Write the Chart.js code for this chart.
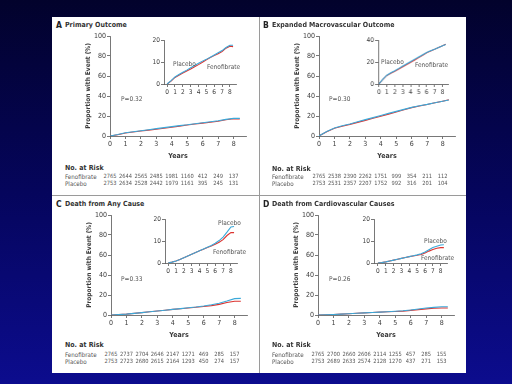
<!DOCTYPE html>
<html>
<head>
<meta charset="utf-8">
<script src="https://cdn.jsdelivr.net/npm/chart.js@4.4.1/dist/chart.umd.min.js"></script>
<style>
  html, body { margin: 0; padding: 0; }
  body {
    width: 512px; height: 384px; overflow: hidden; position: relative;
    background: linear-gradient(to bottom, #02022c 0%, #05055c 50%, #0c0c8e 100%);
    font-family: "Liberation Sans Narrow", "DejaVu Sans Condensed", "Liberation Sans", sans-serif;
  }
  #sheet { position: absolute; left: 52px; top: 17px; width: 414px; height: 356px; background: #fff; }
  .rule { position: absolute; background: #9a9a9a; }
  .txt { position: absolute; white-space: nowrap; line-height: 1; color: #3a3a3a; }
  .box { position: absolute; }
</style>
</head>
<body>
<div id="sheet"></div>
<div class="rule" style="left:259px;top:17px;width:1px;height:356px"></div>
<div class="rule" style="left:52px;top:195px;width:414px;height:1px"></div>
<script>
// follow-up times (years) and axis ticks
const years = [0, 0.5, 1, 1.5, 2, 2.5, 3, 3.5, 4, 4.5, 5, 5.5, 6, 6.5, 7, 7.5, 8, 8.4];
const yearTicks = [0, 1, 2, 3, 4, 5, 6, 7, 8];
const mainTicks = [0, 20, 40, 60, 80, 100];
const insetTicks20 = [0, 10, 20];
const insetTicks40 = [0, 20, 40];

// cumulative proportion with event (%)
const primaryPlacebo = [0, 1.5, 3.2, 4.3, 5.3, 6.3, 7.4, 8.4, 9.4, 10.4, 11.2, 12.2, 13.2, 14.2, 15.2, 16.6, 17.6, 17.6];
const primaryFeno    = [0, 1.3, 3.0, 4.0, 5.0, 5.9, 6.8, 7.8, 8.8, 9.9, 11.0, 12.0, 12.9, 13.8, 14.8, 16.3, 17.2, 17.0];
const macroPlacebo   = [0, 4.5, 8.0, 10.2, 12.0, 14.2, 16.4, 18.4, 20.5, 22.6, 24.6, 26.6, 28.6, 30.2, 31.6, 33.2, 34.8, 36.0];
const macroFeno      = [0, 4.3, 7.8, 9.8, 11.6, 13.6, 15.6, 17.7, 19.8, 21.9, 24.0, 26.2, 28.4, 30.0, 31.5, 33.2, 34.8, 36.2];
const deathPlacebo   = [0, 0.4, 0.9, 1.6, 2.4, 3.2, 4.0, 4.8, 5.6, 6.4, 7.2, 8.0, 9.0, 10.2, 11.8, 14.0, 16.4, 16.6];
const deathFeno      = [0, 0.4, 0.9, 1.6, 2.4, 3.2, 4.0, 4.8, 5.6, 6.3, 7.0, 7.7, 8.5, 9.4, 10.6, 12.5, 13.8, 13.8];
const cvPlacebo      = [0, 0.2, 0.5, 0.9, 1.3, 1.7, 2.1, 2.5, 2.9, 3.3, 3.7, 4.2, 5.0, 6.0, 7.0, 7.6, 8.2, 8.3];
const cvFeno         = [0, 0.2, 0.5, 0.9, 1.3, 1.7, 2.1, 2.5, 2.9, 3.2, 3.5, 3.9, 4.6, 5.4, 6.1, 6.7, 7.0, 7.0];

// numbers at risk, one per year tick
const primaryRiskFeno    = [2765, 2644, 2565, 2485, 1981, 1160, 412, 249, 137];
const primaryRiskPlacebo = [2753, 2634, 2528, 2442, 1979, 1161, 395, 245, 131];
const macroRiskFeno      = [2765, 2538, 2390, 2262, 1751, 999, 354, 211, 112];
const macroRiskPlacebo   = [2753, 2531, 2357, 2207, 1752, 992, 316, 201, 104];
const deathRiskFeno      = [2765, 2737, 2704, 2646, 2147, 1271, 469, 285, 157];
const deathRiskPlacebo   = [2753, 2723, 2680, 2615, 2164, 1293, 450, 274, 157];
const cvRiskFeno         = [2765, 2700, 2660, 2606, 2114, 1255, 457, 285, 155];
const cvRiskPlacebo      = [2753, 2689, 2633, 2574, 2128, 1270, 437, 271, 153];

const FONT = '"Liberation Sans Narrow", "DejaVu Sans Condensed", "Liberation Sans", sans-serif';
const placeboColor = "#3ba9d9";
const fenoColor = "#dc3430";
const axisColor = "#555";
const textColor = "#3a3a3a";

const panels = [
  { letter: "A", title: "Primary Outcome", p: "P=0.32",
    placebo: primaryPlacebo, feno: primaryFeno, riskFeno: primaryRiskFeno, riskPlacebo: primaryRiskPlacebo,
    insetTicks: insetTicks20,
    head: [56, 25], main: [110, 36], inset: [164, 40, -0.4], pPos: [121, 99],
    plLabel: [173, 64], feLabel: [207, 67], table: [65, 168, 177, 184] },
  { letter: "B", title: "Expanded Macrovascular Outcome", p: "P=0.30",
    placebo: macroPlacebo, feno: macroFeno, riskFeno: macroRiskFeno, riskPlacebo: macroRiskPlacebo,
    insetTicks: insetTicks40,
    head: [263, 25], main: [319, 36], inset: [378, 40, -0.1], pPos: [329, 99],
    plLabel: [381, 62], feLabel: [415, 65], table: [272, 169, 177, 184] },
  { letter: "C", title: "Death from Any Cause", p: "P=0.33",
    placebo: deathPlacebo, feno: deathFeno, riskFeno: deathRiskFeno, riskPlacebo: deathRiskPlacebo,
    insetTicks: insetTicks20,
    head: [56, 204], main: [111, 215], inset: [165, 219, -0.4], pPos: [121, 279],
    plLabel: [218, 223], feLabel: [213, 252], table: [65, 345, 355, 362] },
  { letter: "D", title: "Death from Cardiovascular Causes", p: "P=0.26",
    placebo: cvPlacebo, feno: cvFeno, riskFeno: cvRiskFeno, riskPlacebo: cvRiskPlacebo,
    insetTicks: insetTicks20,
    head: [263, 204], main: [318, 215], inset: [374, 219, -0.5], pPos: [329, 279],
    plLabel: [424, 241], feLabel: [421, 258], table: [272, 345, 355, 362] }
];

function addText(str, x, y, size, opts) {
  opts = opts || {};
  const s = document.createElement("span");
  s.className = "txt";
  s.textContent = str;
  s.style.fontSize = size + "px";
  s.style.left = x + "px";
  s.style.top = (y - size / 2) + "px";
  if (opts.bold) s.style.fontWeight = "bold";
  if (opts.color) s.style.color = opts.color;
  if (opts.center) s.style.transform = "translateX(-50%)";
  document.body.appendChild(s);
  return s;
}

function kmChart(box, cfg) {
  const div = document.createElement("div");
  div.className = "box";
  div.style.left = box.left + "px";
  div.style.top = box.top + "px";
  div.style.width = box.w + "px";
  div.style.height = box.h + "px";
  const canvas = document.createElement("canvas");
  div.appendChild(canvas);
  document.body.appendChild(div);

  const series = (vals) => years.map((x, i) => ({ x: x, y: vals[i] }));
  const tickFont = { family: FONT, size: cfg.tickSize };

  return new Chart(canvas, {
    type: "line",
    data: {
      datasets: [
        { label: "Placebo", data: series(cfg.placebo), borderColor: placeboColor, borderWidth: 1.1 },
        { label: "Fenofibrate", data: series(cfg.feno), borderColor: fenoColor, borderWidth: 1.1 }
      ]
    },
    options: {
      responsive: true,
      maintainAspectRatio: false,
      animation: false,
      layout: { padding: { top: cfg.padTop, right: cfg.padRight, left: 0, bottom: 0 } },
      plugins: { legend: { display: false }, tooltip: { enabled: false } },
      elements: { point: { radius: 0 }, line: { tension: 0 } },
      scales: {
        x: {
          type: "linear",
          min: cfg.xMin,
          max: 8.8,
          afterBuildTicks: (s) => { s.ticks = yearTicks.map((v) => ({ value: v })); },
          afterFit: (s) => { s.height = cfg.xH; s.paddingLeft = 0; s.paddingRight = 0; },
          grid: { drawOnChartArea: false, tickLength: 3, color: axisColor, lineWidth: 0.8 },
          border: { color: axisColor, width: 0.8 },
          ticks: { font: tickFont, color: textColor, padding: 1, maxRotation: 0, autoSkip: false },
          title: {
            display: !!cfg.xTitle, text: cfg.xTitle, color: textColor,
            font: { family: FONT, size: 7, weight: "bold" }, padding: { top: 0, bottom: 0 }
          }
        },
        y: {
          min: 0,
          max: cfg.yTicks[cfg.yTicks.length - 1],
          afterBuildTicks: (s) => { s.ticks = cfg.yTicks.map((v) => ({ value: v })); },
          afterFit: (s) => { s.width = cfg.yW; s.paddingTop = 0; s.paddingBottom = 0; },
          grid: { drawOnChartArea: false, tickLength: 3, color: axisColor, lineWidth: 0.8 },
          border: { color: axisColor, width: 0.8 },
          ticks: { font: tickFont, color: textColor, padding: 1, autoSkip: false },
          title: {
            display: !!cfg.yTitle, text: cfg.yTitle, color: textColor,
            font: { family: FONT, size: 6.5, weight: "bold" }, padding: { top: 2, bottom: 0 }
          }
        }
      }
    }
  });
}

panels.forEach((p) => {
  // heading
  addText(p.letter, p.head[0], p.head[1], 8.5, { bold: true, color: "#222" });
  addText(p.title, p.head[0] + 9, p.head[1], 7, { bold: true, color: "#333" });

  // main plot: chart area 136 x 100 starting at p.main
  const mW = 136, mH = 100, yW = 28, padTop = 6, xH = 24, padRight = 4;
  const mainChart = kmChart(
    { left: p.main[0] - yW, top: p.main[1] - padTop, w: yW + mW + padRight, h: padTop + mH + xH },
    { placebo: p.placebo, feno: p.feno, xMin: 0, yTicks: mainTicks, tickSize: 7,
      padTop: padTop, padRight: padRight, xH: xH, yW: yW,
      xTitle: "Years", yTitle: "Proportion with Event (%)" }
  );

  // inset plot
  const iW = (8.8 - p.inset[2]) * 7.85, iH = 44, iyW = 12, ipadTop = 5, ixH = 10, ipadRight = 3;
  kmChart(
    { left: p.inset[0] - iyW, top: p.inset[1] - ipadTop, w: iyW + iW + ipadRight, h: ipadTop + iH + ixH },
    { placebo: p.placebo, feno: p.feno, xMin: p.inset[2], yTicks: p.insetTicks, tickSize: 6.5,
      padTop: ipadTop, padRight: ipadRight, xH: ixH, yW: iyW }
  );

  addText("Placebo", p.plLabel[0], p.plLabel[1], 6.5, { color: "#555" });
  addText("Fenofibrate", p.feLabel[0], p.feLabel[1], 6.5, { color: "#555" });
  addText(p.p, p.pPos[0], p.pPos[1], 6.5, { color: "#555" });

  // numbers at risk, aligned on the main x scale
  const boxLeft = p.main[0] - yW;
  const xs = mainChart.scales.x;
  addText("No. at Risk", p.table[0], p.table[1], 7, { bold: true, color: "#333" });
  addText("Fenofibrate", p.table[0], p.table[2], 6.2, { color: "#555" });
  addText("Placebo", p.table[0], p.table[3], 6.2, { color: "#555" });
  yearTicks.forEach((t, i) => {
    const px = boxLeft + xs.getPixelForValue(t);
    addText(String(p.riskFeno[i]), px, p.table[2], 5.7, { center: true, color: "#555" });
    addText(String(p.riskPlacebo[i]), px, p.table[3], 5.7, { center: true, color: "#555" });
  });
});
</script>
</body>
</html>
